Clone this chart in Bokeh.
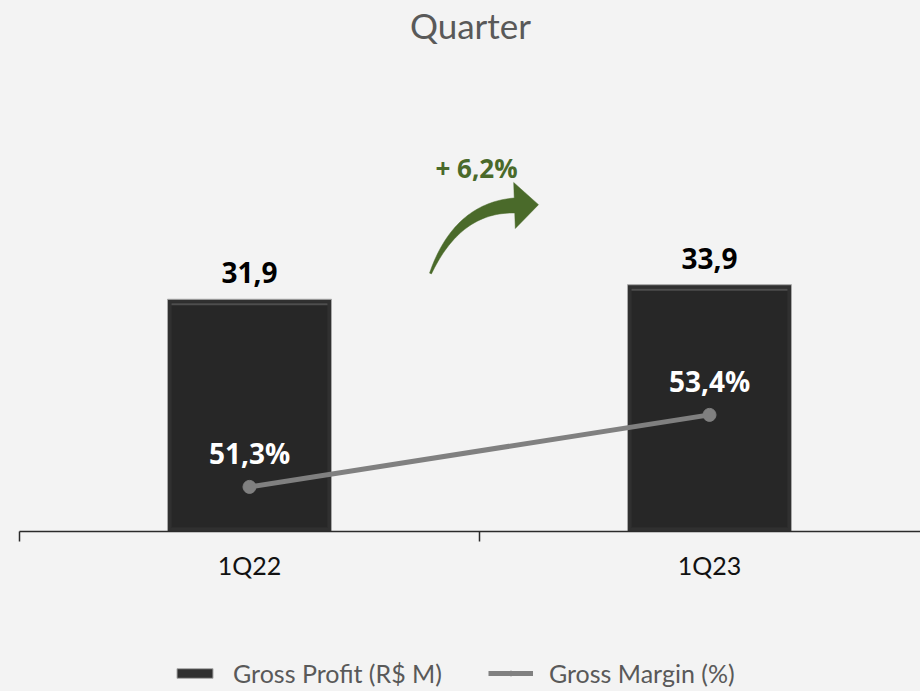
import numpy as np
from bokeh.plotting import figure
from bokeh.models import (Range1d, LinearAxis, FixedTicker, ColumnDataSource,
                          Legend, LegendItem, Label)
from bokeh.core.properties import value
from bokeh.embed import file_html
from bokeh.resources import INLINE

# ---------------- data ----------------
categories = ["1Q22", "1Q23"]
gross_profit = [31.9, 33.9]          # R$ M
gross_margin = [51.3, 53.4]          # %
growth_label = "+ 6,2%"
title_text = "Quarter"
series_names = ["Gross Profit (R$ M)", "Gross Margin (%)"]


def br(v, suffix=""):
    return f"{v:.1f}".replace(".", ",") + suffix


# ---------------- layout constants ----------------
W, H = 920, 691
PX_PER_CAT = 460.0
X0 = 19               # screen x of category boundary 0
AXIS_Y = 531          # screen y of the category axis
PX_PER_GP = 7.28
PX_PER_GM = 34.3
GM_BASE = 50.0

x_start = (0 - X0) / PX_PER_CAT
x_end = (W - X0) / PX_PER_CAT
y_start = -(H - AXIS_Y) / PX_PER_GP
y_end = AXIS_Y / PX_PER_GP
gm_start = GM_BASE - (H - AXIS_Y) / PX_PER_GM
gm_end = GM_BASE + AXIS_Y / PX_PER_GM

BG = "#f3f3f3"

p = figure(width=W, height=H,
           x_range=Range1d(x_start, x_end), y_range=Range1d(y_start, y_end),
           x_axis_location=None, y_axis_location=None,
           output_backend="svg", toolbar_location=None,
           min_border=0)
p.extra_y_ranges = {"gm": Range1d(gm_start, gm_end)}
p.background_fill_color = BG
p.border_fill_color = BG
p.outline_line_color = None
p.grid.visible = False

xs = [i + 0.5 for i in range(len(categories))]
bar_w = 164 / PX_PER_CAT
inset_x = 4 / PX_PER_CAT
inset_y = 4 / PX_PER_GP
hl_y = 6 / PX_PER_GP
src = ColumnDataSource(dict(
    x=xs,
    gp=gross_profit,
    gp_in=[v - inset_y for v in gross_profit],
    gp_hl=[v - hl_y for v in gross_profit],
    gm=gross_margin,
    gp_lbl=[br(v) for v in gross_profit],
    gm_lbl=[br(v, "%") for v in gross_margin],
))

# axis, drawn at y = 0 inside the frame
xaxis = LinearAxis(
    fixed_location=0,
    ticker=FixedTicker(ticks=xs, minor_ticks=[0, 1, 2]),
    bounds=(0, 2),
    major_label_overrides={x: c for x, c in zip(xs, categories)},
    axis_line_color="#2a2a2a", axis_line_width=1.5,
    major_tick_out=0, major_tick_in=0,
    minor_tick_out=10, minor_tick_in=0,
    minor_tick_line_color="#2a2a2a", minor_tick_line_width=1.5,
    major_label_standoff=8,
    major_label_text_font="Lato",
    major_label_text_font_size="25px",
    major_label_text_color="#111111",
)
p.add_layout(xaxis, "below")

# bars (outer bevel + inner face + top highlight)
bars = p.vbar(x="x", top="gp", width=bar_w, source=src,
              fill_color="#303030", line_color="#a8a8a8", line_width=1)
p.vbar(x="x", top="gp_in", bottom=inset_y, width=bar_w - 2 * inset_x,
       source=src, fill_color="#272727", line_color="#2c2c2c", line_width=1)
p.vbar(x="x", top="gp_in", bottom="gp_hl", width=bar_w - 2 * inset_x,
       source=src, fill_color="#4e4e4e", line_color=None)

# margin line
line = p.line("x", "gm", y_range_name="gm", source=src,
              line_color="#808080", line_width=5)
pts = p.scatter("x", "gm", y_range_name="gm", source=src, size=13,
                fill_color="#808080", line_color="#808080")

# labels
p.text("x", "gp", text="gp_lbl", source=src, text_align="center",
       text_baseline="bottom", y_offset=-16,
       text_font=value("Open Sans"), text_font_style="bold",
       text_font_size="28px", text_color="#000000")
p.text("x", "gm", text="gm_lbl", source=src, y_range_name="gm",
       text_align="center", text_baseline="bottom", y_offset=-15,
       text_font=value("Open Sans"), text_font_style="bold",
       text_font_size="28px", text_color="#ffffff")


# growth arrow (decoration), built in screen px then mapped to data
def to_data(px, py):
    return (px - X0) / PX_PER_CAT, (AXIS_Y - py) / PX_PER_GP


T = np.array([430.0, 273.0])
C = np.array([457.0, 207.0])
E = np.array([514.0, 205.0])
u = np.linspace(0, 1, 40)[:, None]
B = (1 - u) ** 2 * T + 2 * u * (1 - u) * C + u ** 2 * E
D = 2 * (1 - u) * (C - T) + 2 * u * (E - C)
D = D / np.linalg.norm(D, axis=1, keepdims=True)
N = np.column_stack([D[:, 1], -D[:, 0]])
wid = 1.0 + 6.5 * u[:, 0] ** 0.9
side_a = B + N * wid[:, None]
side_b = B - N * wid[:, None]
d_end, n_end = D[-1], N[-1]
head_a = E + n_end * 23
head_b = E - n_end * 23
tip = E + d_end * 24
poly = np.vstack([side_a, head_a, tip, head_b, side_b[::-1]])
ax_, ay_ = zip(*[to_data(px, py) for px, py in poly])
p.patch(list(ax_), list(ay_), fill_color="#4a6a2a", line_color="#4a6a2a",
        line_width=0.5)
gx, gy = to_data(476, 167)
p.add_layout(Label(x=gx, y=gy, text=growth_label, text_align="center",
                   text_baseline="middle", text_font="Open Sans",
                   text_font_style="bold", text_font_size="26px",
                   text_color="#4a6a2a"))

# title
tx, ty = to_data(470, 24)
p.add_layout(Label(x=tx, y=ty, text=title_text, text_align="center",
                   text_baseline="middle", text_font="Lato",
                   text_font_size="35px", text_color="#595959"))

# legend
legend = Legend(
    items=[LegendItem(label=series_names[0], renderers=[bars]),
           LegendItem(label=series_names[1], renderers=[line, pts])],
    location=(172, 3), orientation="horizontal",
    glyph_width=45, glyph_height=12, label_height=24,
    label_standoff=16, spacing=46, padding=0, margin=0,
    border_line_color=None, background_fill_alpha=0,
    label_text_font="Lato", label_text_font_size="25px",
    label_text_color="#595959",
)
p.add_layout(legend)

template = """
{% block postamble %}
<style>html, body { background: #f3f3f3; }</style>
{% endblock %}
"""

open("out.html", "w").write(file_html(p, INLINE, title="Quarter", template=template))
